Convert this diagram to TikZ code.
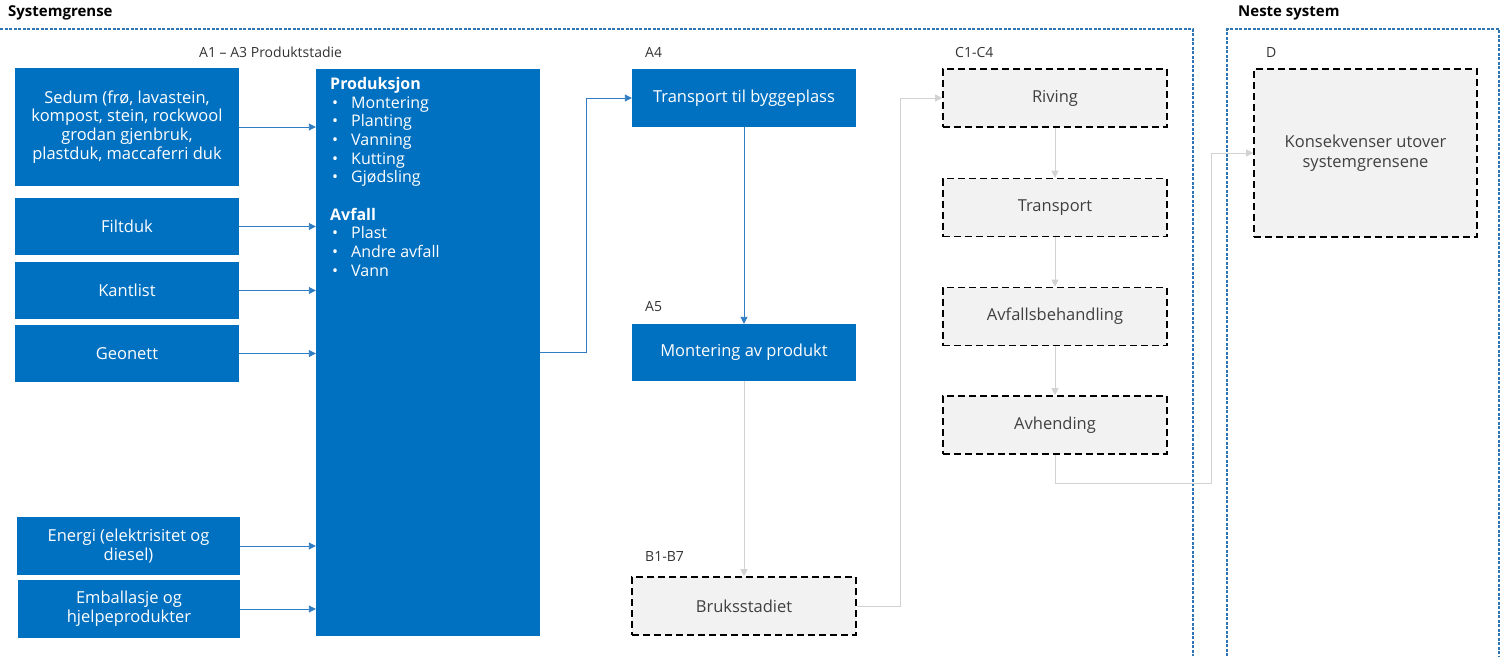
\documentclass[tikz,border=0pt]{standalone}
\usepackage{fontspec}
\setmainfont{Open Sans}
\usetikzlibrary{arrows.meta}
\definecolor{boxblue}{HTML}{0070C0}
\definecolor{borderblue}{HTML}{2E75B6}
\definecolor{linkblue}{HTML}{2F7DC2}
\definecolor{linkgrey}{HTML}{D2D2D2}
\definecolor{boxgrey}{HTML}{F2F2F2}
\definecolor{textgrey}{HTML}{404040}
\newcommand{\blt}{\makebox[19pt][l]{\textbullet}}

\begin{document}
\begin{tikzpicture}[x=1pt,y=-1pt,
  bluebox/.style={fill=boxblue,text=white,minimum width=224pt,align=center,inner sep=0pt,font=\fontsize{16.5}{18.8}\selectfont},
  greybox/.style={draw=black,line width=1.6pt,dash pattern=on 7pt off 4pt,fill=boxgrey,text=textgrey,minimum width=224pt,minimum height=58pt,align=center,inner sep=0pt,font=\fontsize{16.5}{19.5}\selectfont},
  inarrow/.style={draw=linkblue,line width=0.9pt,-{Triangle[length=7pt,width=7pt]}},
  greyarrow/.style={draw=linkgrey,line width=1pt,-{Triangle[length=7pt,width=7pt]}},
  stage/.style={anchor=west,inner sep=0pt,text=black!80,font=\fontsize{14}{16}\selectfont},
  heading/.style={anchor=west,inner sep=0pt,font=\fontsize{15}{17}\selectfont\bfseries},
  border/.style={draw=borderblue,line width=1.4pt,dash pattern=on 3pt off 1.5pt}
]
  \useasboundingbox (0,0) rectangle (1504,656);

  % system boundaries
  \node[heading] (sysgrense) at (8,13) {Systemgrense};
  \node[heading] (neste) at (1238,13) {Neste system};
  \draw[border] (0,29) -- (1193,29) -- (1193,656);
  \draw[border] (1227,656) -- (1227,29) -- (1499,29) -- (1499,656);

  % A1-A3 inputs
  \node[bluebox,minimum height=118pt] (sedum) at (127,127) {Sedum (frø, lavastein,\\kompost, stein, rockwool\\grodan gjenbruk,\\plastduk, maccaferri duk};
  \node[bluebox,minimum height=57pt] (filtduk) at (127,226.5) {Filtduk};
  \node[bluebox,minimum height=57pt] (kantlist) at (127,290.5) {Kantlist};
  \node[bluebox,minimum height=57pt] (geonett) at (127,353.5) {Geonett};
  \node[bluebox,minimum height=58pt,minimum width=223pt] (energi) at (128.5,546) {Energi (elektrisitet og\\diesel)};
  \node[bluebox,minimum height=58pt,minimum width=222pt] (emball) at (129,609) {Emballasje og\\hjelpeprodukter};

  % A1-A3 production
  \node[stage] (a1a3) at (199,52) {A1 – A3 Produktstadie};
  \node[bluebox,minimum height=567pt] (prod) at (428,352.5) {};
  \node[anchor=north west,align=left,inner sep=0pt,text=white,font=\fontsize{16}{18.7}\selectfont] (prodlist) at (330,77)
    {\textbf{Produksjon}\\
     \hspace*{2pt}\blt Montering\\
     \hspace*{2pt}\blt Planting\\
     \hspace*{2pt}\blt Vanning\\
     \hspace*{2pt}\blt Kutting\\
     \hspace*{2pt}\blt Gjødsling\\[18.7pt]
     \textbf{Avfall}\\
     \hspace*{2pt}\blt Plast\\
     \hspace*{2pt}\blt Andre avfall\\
     \hspace*{2pt}\blt Vann};

  \foreach \src in {sedum,filtduk,kantlist,geonett,energi,emball}
    \draw[inarrow] (\src.east) -- (\src.east -| prod.west);

  % A4, A5
  \node[stage] (a4lbl) at (645,52) {A4};
  \node[bluebox,minimum height=58pt] (transp) at (744,98) {Transport til byggeplass};
  \node[stage] (a5lbl) at (645,307) {A5};
  \node[bluebox,minimum height=57pt] (mont) at (744,352.5) {Montering av produkt};
  \draw[inarrow] (prod.east) -- ++(46,0) |- (transp.west);
  \draw[inarrow] (transp) -- (mont);

  % B1-B7
  \node[stage] (b1b7) at (645,556) {B1-B7};
  \node[greybox] (bruk) at (744,606) {Bruksstadiet};
  \draw[greyarrow] (mont) -- (bruk);

  % C1-C4
  \node[stage] (c1c4) at (955,52) {C1-C4};
  \node[greybox] (riving) at (1055,98) {Riving};
  \node[greybox] (ctransp) at (1055,207.5) {Transport};
  \node[greybox] (avfbeh) at (1055,316.5) {Avfallsbehandling};
  \node[greybox] (avhend) at (1055,425) {Avhending};
  \draw[greyarrow] (bruk.east) -- ++(44,0) |- (riving.west);
  \draw[greyarrow] (riving) -- (ctransp);
  \draw[greyarrow] (ctransp) -- (avfbeh);
  \draw[greyarrow] (avfbeh) -- (avhend);

  % D
  \node[stage] (dlbl) at (1266,53) {D};
  \node[greybox,minimum width=223pt,minimum height=168pt] (kons) at (1365.5,153) {Konsekvenser utover\\systemgrensene};
  \coordinate (bend) at (1211,483);
  \draw[greyarrow] (avhend.south) |- (bend) |- (kons.west);
\end{tikzpicture}
\end{document}
